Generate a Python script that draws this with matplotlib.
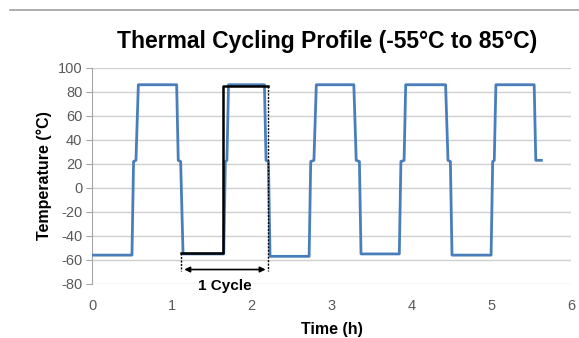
import matplotlib.pyplot as plt
from matplotlib.lines import Line2D

# blue thermal profile
time_h = [0, 0.50, 0.52, 0.55, 0.58, 1.06, 1.08, 1.11, 1.14,
          1.65, 1.67, 1.69, 1.71, 2.16, 2.18, 2.21, 2.23,
          2.72, 2.74, 2.78, 2.81, 3.28, 3.31, 3.35, 3.37,
          3.85, 3.87, 3.91, 3.93, 4.43, 4.46, 4.49, 4.51,
          5.00, 5.02, 5.04, 5.06, 5.54, 5.56, 5.63]
temp_c = [-56, -56, 22, 23, 86, 86, 23, 22, -55,
          -55, 22, 23, 86, 86, 23, 22, -57,
          -57, 22, 23, 86, 86, 23, 22, -55,
          -55, 22, 23, 86, 86, 23, 22, -56,
          -56, 22, 23, 86, 86, 23, 23]

# black highlighted cycle
cycle_t = [1.12, 1.64, 1.64, 2.21]
cycle_temp = [-54, -54, 85, 85]
arrow_y = -68

plt.rcParams['font.family'] = ['Liberation Sans', 'DejaVu Sans']
plt.rcParams['axes.unicode_minus'] = False

fig = plt.figure(figsize=(5.79, 3.38), dpi=100)
ax = fig.add_axes([0.159, 0.160, 0.827, 0.639])

fig.add_artist(Line2D([10 / 579, 1.0], [1 - 10 / 338] * 2, color='#a0a0a0', lw=1.2))

ax.plot(time_h, temp_c, color='#4a7ebb', lw=2.0, zorder=3)
ax.plot(cycle_t, cycle_temp, color='black', lw=1.8, zorder=4)

# dotted markers + arrow
ax.plot([cycle_t[0], cycle_t[0]], [cycle_temp[0], arrow_y - 1.5], color='black', lw=1.0, ls=(0, (1.5, 1)), zorder=4)
ax.plot([cycle_t[-1], cycle_t[-1]], [cycle_temp[-1], arrow_y - 1.5], color='black', lw=1.0, ls=(0, (1.5, 1)), zorder=4)
ax.annotate('', xy=(cycle_t[0], arrow_y), xytext=(cycle_t[-1], arrow_y),
            arrowprops=dict(arrowstyle='<|-|>', color='black', lw=1.2, mutation_scale=8), zorder=4)
ax.text((cycle_t[0] + cycle_t[-1]) / 2, -81.5, '1 Cycle', ha='center', va='center',
        fontsize=11, fontweight='bold', zorder=5)

ax.set_xlim(0, 6)
ax.set_ylim(-80, 100)
ax.set_xticks(range(0, 7))
ax.set_yticks(range(-80, 101, 20))
ax.grid(axis='y', color='#d0d0d0', lw=1.0)
ax.set_axisbelow(True)

for s in ['top', 'right', 'bottom']:
    ax.spines[s].set_visible(False)
ax.spines['left'].set_color('#a6a6a6')
ax.tick_params(axis='y', colors='#a6a6a6', length=4, labelcolor='#595959', labelsize=10.5, pad=3)
ax.tick_params(axis='x', length=0, labelcolor='#595959', labelsize=10.5, pad=11)

ax.set_xlabel('Time (h)', fontsize=11.5, fontweight='bold', labelpad=6)
ax.set_ylabel('Temperature (°C)', fontsize=11.5, fontweight='bold', labelpad=4)
fig.text(0.565, 0.876, 'Thermal Cycling Profile (-55°C to 85°C)', ha='center', va='center',
         fontsize=16.5, fontweight='bold')

fig.savefig('out.png', dpi=100)
